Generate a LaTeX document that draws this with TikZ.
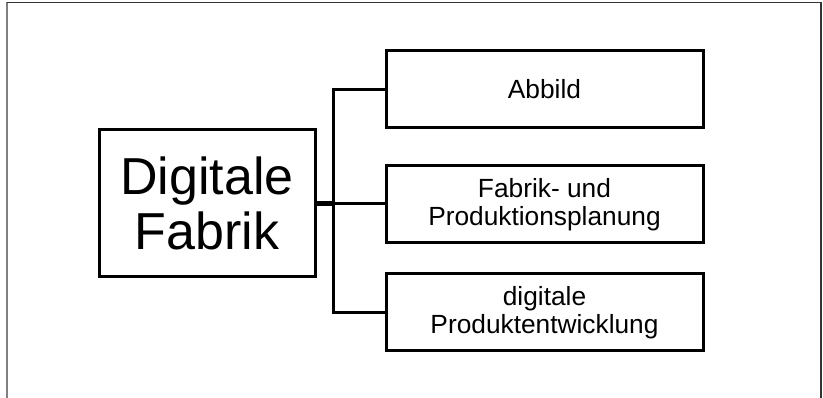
\documentclass[tikz,border=0pt]{standalone}
\usepackage{fontspec}
\setmainfont{Liberation Sans}
\usetikzlibrary{positioning}
\tikzset{every node/.style={font=\fontsize{26.3}{27.5}\selectfont},
 hauptbox/.style={draw,line width=3pt,align=center,minimum width=216pt,minimum height=147pt,inner sep=0pt,
  font=\fontsize{52}{55}\selectfont},
 teilbox/.style={draw,line width=3pt,align=center,minimum width=317pt,minimum height=77pt,inner sep=0pt},
 ast/.style={line width=3pt},
 stamm/.style={line width=5pt}}

\begin{document}
\begin{tikzpicture}[x=1pt,y=-1pt]
\useasboundingbox (0,0) rectangle (823,398);
% Rahmen, unten offen.
\draw[gray,line width=2pt] (7,398)--(7,2.5);
\draw[black!80,line width=1.5pt] (7,2.5)--(821,2.5)--(821,398);
% Hauptbegriff und die drei Teilbereiche.
\node[hauptbox] (haupt) at (207,203.5){Digitale\\Fabrik};
\node[teilbox] (abbild) at (544.5,89.5){Abbild};
\node[teilbox,below=35pt of abbild] (planung){Fabrik- und\\Produktionsplanung};
\node[teilbox,below=28pt of planung] (entw){digitale\\Produktentwicklung};
% Verzweigung.
\coordinate (knoten) at (haupt.east -| 333,0);
\draw[stamm] (haupt.east)--(knoten);
\draw[ast] (knoten)--(knoten -| planung.west);
\draw[ast] (abbild.west)-|(knoten)|-(entw.west);
\end{tikzpicture}
\end{document}
